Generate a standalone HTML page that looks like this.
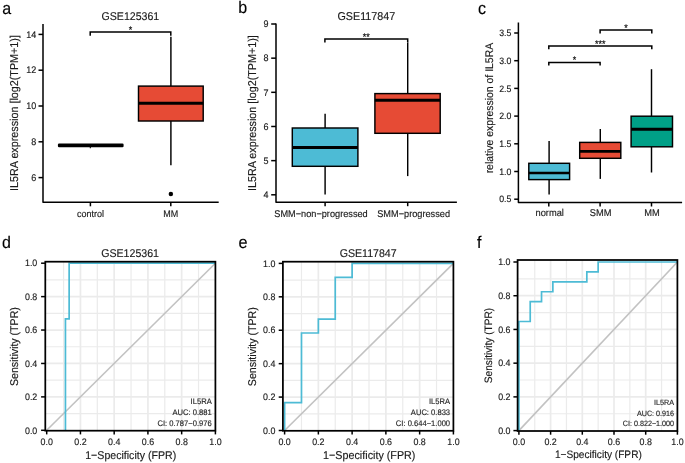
<!DOCTYPE html>
<html><head><meta charset="utf-8"><style>
html,body{margin:0;padding:0;background:#fff;}
svg{display:block;font-family:"Liberation Sans", sans-serif;will-change:transform;text-rendering:geometricPrecision;}
</style></head><body>
<svg width="685" height="463" viewBox="0 0 685 463">
<rect width="685" height="463" fill="#fff"/>
<text transform="translate(2.2,13.6) scale(1,1.06)" font-size="16" text-anchor="start" fill="#000" stroke="#000" stroke-width="0.14">a</text>
<text transform="translate(238.3,13.4) scale(1,1.06)" font-size="16" text-anchor="start" fill="#000" stroke="#000" stroke-width="0.14">b</text>
<text transform="translate(478,13.6) scale(1,1.06)" font-size="16" text-anchor="start" fill="#000" stroke="#000" stroke-width="0.14">c</text>
<text transform="translate(1.9,248.2) scale(1,1.06)" font-size="16" text-anchor="start" fill="#000" stroke="#000" stroke-width="0.14">d</text>
<text transform="translate(238.5,248.2) scale(1,1.06)" font-size="16.3" text-anchor="start" fill="#000" stroke="#000" stroke-width="0.14">e</text>
<text transform="translate(477,247.9) scale(1,1.06)" font-size="16" text-anchor="start" fill="#000" stroke="#000" stroke-width="0.14">f</text>
<polyline points="43,24 43,202.3 218.7,202.3" fill="none" stroke="#000" stroke-width="1.5" stroke-linejoin="round" stroke-linecap="butt"/>
<line x1="38.5" y1="177.6" x2="43" y2="177.6" stroke="#000" stroke-width="1.5" stroke-linecap="butt"/>
<text transform="translate(36.2,180.85) scale(1,1.06)" font-size="9" text-anchor="end" fill="#1a1a1a" stroke="#1a1a1a" stroke-width="0.14">6</text>
<line x1="38.5" y1="141.8" x2="43" y2="141.8" stroke="#000" stroke-width="1.5" stroke-linecap="butt"/>
<text transform="translate(36.2,145.05) scale(1,1.06)" font-size="9" text-anchor="end" fill="#1a1a1a" stroke="#1a1a1a" stroke-width="0.14">8</text>
<line x1="38.5" y1="106" x2="43" y2="106" stroke="#000" stroke-width="1.5" stroke-linecap="butt"/>
<text transform="translate(36.2,109.25) scale(1,1.06)" font-size="9" text-anchor="end" fill="#1a1a1a" stroke="#1a1a1a" stroke-width="0.14">10</text>
<line x1="38.5" y1="70.2" x2="43" y2="70.2" stroke="#000" stroke-width="1.5" stroke-linecap="butt"/>
<text transform="translate(36.2,73.45) scale(1,1.06)" font-size="9" text-anchor="end" fill="#1a1a1a" stroke="#1a1a1a" stroke-width="0.14">12</text>
<line x1="38.5" y1="34.4" x2="43" y2="34.4" stroke="#000" stroke-width="1.5" stroke-linecap="butt"/>
<text transform="translate(36.2,37.65) scale(1,1.06)" font-size="9" text-anchor="end" fill="#1a1a1a" stroke="#1a1a1a" stroke-width="0.14">14</text>
<line x1="90.4" y1="202.3" x2="90.4" y2="206.3" stroke="#000" stroke-width="1.5" stroke-linecap="butt"/>
<text transform="translate(90.4,216.7) scale(1,1.06)" font-size="9" text-anchor="middle" fill="#1a1a1a" stroke="#1a1a1a" stroke-width="0.14">control</text>
<line x1="170.8" y1="202.3" x2="170.8" y2="206.3" stroke="#000" stroke-width="1.5" stroke-linecap="butt"/>
<text transform="translate(170.8,216.7) scale(1,1.06)" font-size="9" text-anchor="middle" fill="#1a1a1a" stroke="#1a1a1a" stroke-width="0.14">MM</text>
<text transform="translate(18.4,113) rotate(-90) scale(1,1.06)" font-size="10.78" text-anchor="middle" fill="#1a1a1a" stroke="#1a1a1a" stroke-width="0.14">IL5RA expression [log2(TPM+1)]</text>
<text transform="translate(130.4,19.7) scale(1,1.06)" font-size="10.6" text-anchor="middle" fill="#1a1a1a" stroke="#1a1a1a" stroke-width="0.14">GSE125361</text>
<rect x="57.9" y="143.45" width="65.7" height="3.8" rx="1.2" fill="#000"/>
<line x1="90.3" y1="146" x2="90.3" y2="148.2" stroke="#000" stroke-width="1.1" stroke-linecap="butt"/>
<line x1="170.9" y1="36.7" x2="170.9" y2="86.1" stroke="#000" stroke-width="1.45" stroke-linecap="butt"/>
<line x1="170.9" y1="121" x2="170.9" y2="165.2" stroke="#000" stroke-width="1.45" stroke-linecap="butt"/>
<rect x="138.5" y="86.1" width="64.7" height="34.9" fill="#E64B35" stroke="#000" stroke-width="1.45"/>
<line x1="138.5" y1="103.3" x2="203.2" y2="103.3" stroke="#000" stroke-width="3" stroke-linecap="butt"/>
<circle cx="170.85" cy="194.1" r="2.25" fill="#000"/>
<polyline points="90.2,35.7 90.2,31.9 170.8,31.9 170.8,35.7" fill="none" stroke="#000" stroke-width="1.5" stroke-linejoin="miter" stroke-linecap="butt"/>
<text transform="translate(130.5,32.6) scale(1,1.06)" font-size="9" text-anchor="middle" fill="#000" stroke="#000" stroke-width="0.14">*</text>
<polyline points="276,23.5 276,202.2 456.9,202.2" fill="none" stroke="#000" stroke-width="1.5" stroke-linejoin="round" stroke-linecap="butt"/>
<line x1="271.2" y1="194.8" x2="276" y2="194.8" stroke="#000" stroke-width="1.5" stroke-linecap="butt"/>
<text transform="translate(268.6,198.05) scale(1,1.06)" font-size="9" text-anchor="end" fill="#1a1a1a" stroke="#1a1a1a" stroke-width="0.14">4</text>
<line x1="271.2" y1="160.64" x2="276" y2="160.64" stroke="#000" stroke-width="1.5" stroke-linecap="butt"/>
<text transform="translate(268.6,163.89) scale(1,1.06)" font-size="9" text-anchor="end" fill="#1a1a1a" stroke="#1a1a1a" stroke-width="0.14">5</text>
<line x1="271.2" y1="126.48" x2="276" y2="126.48" stroke="#000" stroke-width="1.5" stroke-linecap="butt"/>
<text transform="translate(268.6,129.73) scale(1,1.06)" font-size="9" text-anchor="end" fill="#1a1a1a" stroke="#1a1a1a" stroke-width="0.14">6</text>
<line x1="271.2" y1="92.32" x2="276" y2="92.32" stroke="#000" stroke-width="1.5" stroke-linecap="butt"/>
<text transform="translate(268.6,95.57) scale(1,1.06)" font-size="9" text-anchor="end" fill="#1a1a1a" stroke="#1a1a1a" stroke-width="0.14">7</text>
<line x1="271.2" y1="58.16" x2="276" y2="58.16" stroke="#000" stroke-width="1.5" stroke-linecap="butt"/>
<text transform="translate(268.6,61.41) scale(1,1.06)" font-size="9" text-anchor="end" fill="#1a1a1a" stroke="#1a1a1a" stroke-width="0.14">8</text>
<line x1="271.2" y1="24" x2="276" y2="24" stroke="#000" stroke-width="1.5" stroke-linecap="butt"/>
<text transform="translate(268.6,27.25) scale(1,1.06)" font-size="9" text-anchor="end" fill="#1a1a1a" stroke="#1a1a1a" stroke-width="0.14">9</text>
<line x1="325.1" y1="202.2" x2="325.1" y2="206.2" stroke="#000" stroke-width="1.5" stroke-linecap="butt"/>
<line x1="407.7" y1="202.2" x2="407.7" y2="206.2" stroke="#000" stroke-width="1.5" stroke-linecap="butt"/>
<text transform="translate(321,216.7) scale(1,1.06)" font-size="9.2" text-anchor="middle" fill="#1a1a1a" stroke="#1a1a1a" stroke-width="0.14">SMM−non−progressed</text>
<text transform="translate(413.6,216.7) scale(1,1.06)" font-size="9.2" text-anchor="middle" fill="#1a1a1a" stroke="#1a1a1a" stroke-width="0.14">SMM−progressed</text>
<text transform="translate(255.9,113.1) rotate(-90) scale(1,1.06)" font-size="10.78" text-anchor="middle" fill="#1a1a1a" stroke="#1a1a1a" stroke-width="0.14">IL5RA expression [log2(TPM+1)]</text>
<text transform="translate(366.35,19.75) scale(1,1.06)" font-size="10.75" text-anchor="middle" fill="#1a1a1a" stroke="#1a1a1a" stroke-width="0.14">GSE117847</text>
<line x1="325.1" y1="113.7" x2="325.1" y2="128" stroke="#000" stroke-width="1.45" stroke-linecap="butt"/>
<line x1="325.1" y1="166.3" x2="325.1" y2="194.6" stroke="#000" stroke-width="1.45" stroke-linecap="butt"/>
<rect x="292.3" y="128" width="65.6" height="38.3" fill="#4DBBD5" stroke="#000" stroke-width="1.45"/>
<line x1="292.3" y1="147.4" x2="357.9" y2="147.4" stroke="#000" stroke-width="3" stroke-linecap="butt"/>
<line x1="407.7" y1="42.6" x2="407.7" y2="93.6" stroke="#000" stroke-width="1.45" stroke-linecap="butt"/>
<line x1="407.7" y1="133.3" x2="407.7" y2="176.1" stroke="#000" stroke-width="1.45" stroke-linecap="butt"/>
<rect x="374.9" y="93.6" width="65.3" height="39.7" fill="#E64B35" stroke="#000" stroke-width="1.45"/>
<line x1="374.9" y1="100.2" x2="440.2" y2="100.2" stroke="#000" stroke-width="3" stroke-linecap="butt"/>
<polyline points="324.9,42.6 324.9,38.9 407.7,38.9 407.7,42.6" fill="none" stroke="#000" stroke-width="1.5" stroke-linejoin="miter" stroke-linecap="butt"/>
<text transform="translate(366.3,39.5) scale(1,1.06)" font-size="9" text-anchor="middle" fill="#000" stroke="#000" stroke-width="0.14">**</text>
<polyline points="518.4,22.5 518.4,202.5 682.1,202.5" fill="none" stroke="#000" stroke-width="1.5" stroke-linejoin="round" stroke-linecap="butt"/>
<line x1="514.2" y1="199.2" x2="518.4" y2="199.2" stroke="#000" stroke-width="1.5" stroke-linecap="butt"/>
<text transform="translate(511.4,202.4) scale(1,1.06)" font-size="8.8" text-anchor="end" fill="#1a1a1a" stroke="#1a1a1a" stroke-width="0.14">0.5</text>
<line x1="514.2" y1="171.5" x2="518.4" y2="171.5" stroke="#000" stroke-width="1.5" stroke-linecap="butt"/>
<text transform="translate(511.4,174.7) scale(1,1.06)" font-size="8.8" text-anchor="end" fill="#1a1a1a" stroke="#1a1a1a" stroke-width="0.14">1.0</text>
<line x1="514.2" y1="143.8" x2="518.4" y2="143.8" stroke="#000" stroke-width="1.5" stroke-linecap="butt"/>
<text transform="translate(511.4,147) scale(1,1.06)" font-size="8.8" text-anchor="end" fill="#1a1a1a" stroke="#1a1a1a" stroke-width="0.14">1.5</text>
<line x1="514.2" y1="116.1" x2="518.4" y2="116.1" stroke="#000" stroke-width="1.5" stroke-linecap="butt"/>
<text transform="translate(511.4,119.3) scale(1,1.06)" font-size="8.8" text-anchor="end" fill="#1a1a1a" stroke="#1a1a1a" stroke-width="0.14">2.0</text>
<line x1="514.2" y1="88.4" x2="518.4" y2="88.4" stroke="#000" stroke-width="1.5" stroke-linecap="butt"/>
<text transform="translate(511.4,91.6) scale(1,1.06)" font-size="8.8" text-anchor="end" fill="#1a1a1a" stroke="#1a1a1a" stroke-width="0.14">2.5</text>
<line x1="514.2" y1="60.7" x2="518.4" y2="60.7" stroke="#000" stroke-width="1.5" stroke-linecap="butt"/>
<text transform="translate(511.4,63.9) scale(1,1.06)" font-size="8.8" text-anchor="end" fill="#1a1a1a" stroke="#1a1a1a" stroke-width="0.14">3.0</text>
<line x1="514.2" y1="33" x2="518.4" y2="33" stroke="#000" stroke-width="1.5" stroke-linecap="butt"/>
<text transform="translate(511.4,36.2) scale(1,1.06)" font-size="8.8" text-anchor="end" fill="#1a1a1a" stroke="#1a1a1a" stroke-width="0.14">3.5</text>
<line x1="548.8" y1="202.5" x2="548.8" y2="206.5" stroke="#000" stroke-width="1.5" stroke-linecap="butt"/>
<text transform="translate(549.7,215.9) scale(1,1.06)" font-size="9.3" text-anchor="middle" fill="#1a1a1a" stroke="#1a1a1a" stroke-width="0.14">normal</text>
<line x1="600.1" y1="202.5" x2="600.1" y2="206.5" stroke="#000" stroke-width="1.5" stroke-linecap="butt"/>
<text transform="translate(600.7,215.9) scale(1,1.06)" font-size="9.3" text-anchor="middle" fill="#1a1a1a" stroke="#1a1a1a" stroke-width="0.14">SMM</text>
<line x1="651.5" y1="202.5" x2="651.5" y2="206.5" stroke="#000" stroke-width="1.5" stroke-linecap="butt"/>
<text transform="translate(652,215.9) scale(1,1.06)" font-size="9.3" text-anchor="middle" fill="#1a1a1a" stroke="#1a1a1a" stroke-width="0.14">MM</text>
<text transform="translate(492.7,108.1) rotate(-90) scale(1,1.06)" font-size="10.45" text-anchor="middle" fill="#1a1a1a" stroke="#1a1a1a" stroke-width="0.14">relative expression of IL5RA</text>
<line x1="549.1" y1="141.1" x2="549.1" y2="163.3" stroke="#000" stroke-width="1.45" stroke-linecap="butt"/>
<line x1="549.1" y1="179.6" x2="549.1" y2="194.4" stroke="#000" stroke-width="1.45" stroke-linecap="butt"/>
<rect x="528.8" y="163.3" width="40.8" height="16.3" fill="#4DBBD5" stroke="#000" stroke-width="1.45"/>
<line x1="528.8" y1="173" x2="569.6" y2="173" stroke="#000" stroke-width="2.7" stroke-linecap="butt"/>
<line x1="600.3" y1="129" x2="600.3" y2="142.4" stroke="#000" stroke-width="1.45" stroke-linecap="butt"/>
<line x1="600.3" y1="158.3" x2="600.3" y2="178.9" stroke="#000" stroke-width="1.45" stroke-linecap="butt"/>
<rect x="579.7" y="142.4" width="41.1" height="15.9" fill="#E64B35" stroke="#000" stroke-width="1.45"/>
<line x1="579.7" y1="151.3" x2="620.8" y2="151.3" stroke="#000" stroke-width="2.7" stroke-linecap="butt"/>
<line x1="651.5" y1="69.2" x2="651.5" y2="116.2" stroke="#000" stroke-width="1.45" stroke-linecap="butt"/>
<line x1="651.5" y1="146.8" x2="651.5" y2="172.5" stroke="#000" stroke-width="1.45" stroke-linecap="butt"/>
<rect x="631.1" y="116.2" width="41.4" height="30.6" fill="#00A087" stroke="#000" stroke-width="1.45"/>
<line x1="631.1" y1="129.2" x2="672.5" y2="129.2" stroke="#000" stroke-width="3" stroke-linecap="butt"/>
<polyline points="600.1,33.4 600.1,29.9 651.8,29.9 651.8,33.4" fill="none" stroke="#000" stroke-width="1.5" stroke-linejoin="miter" stroke-linecap="butt"/>
<text transform="translate(625.95,30.5) scale(1,1.06)" font-size="9" text-anchor="middle" fill="#000" stroke="#000" stroke-width="0.14">*</text>
<polyline points="548.8,49.3 548.8,46.1 651.8,46.1 651.8,49.3" fill="none" stroke="#000" stroke-width="1.5" stroke-linejoin="miter" stroke-linecap="butt"/>
<text transform="translate(600.3,46.5) scale(1,1.06)" font-size="9" text-anchor="middle" fill="#000" stroke="#000" stroke-width="0.14">***</text>
<polyline points="548.8,65.5 548.8,62.4 600.1,62.4 600.1,65.5" fill="none" stroke="#000" stroke-width="1.5" stroke-linejoin="miter" stroke-linecap="butt"/>
<text transform="translate(574.45,62.6) scale(1,1.06)" font-size="9" text-anchor="middle" fill="#000" stroke="#000" stroke-width="0.14">*</text>
<line x1="63.57" y1="261.7" x2="63.57" y2="430.7" stroke="#EBEBEB" stroke-width="1.2"/>
<line x1="45.3" y1="413.59" x2="215.4" y2="413.59" stroke="#EBEBEB" stroke-width="1.2"/>
<line x1="80.44" y1="261.7" x2="80.44" y2="430.7" stroke="#EBEBEB" stroke-width="1.7"/>
<line x1="45.3" y1="396.88" x2="215.4" y2="396.88" stroke="#EBEBEB" stroke-width="1.7"/>
<line x1="97.31" y1="261.7" x2="97.31" y2="430.7" stroke="#EBEBEB" stroke-width="1.2"/>
<line x1="45.3" y1="380.17" x2="215.4" y2="380.17" stroke="#EBEBEB" stroke-width="1.2"/>
<line x1="114.18" y1="261.7" x2="114.18" y2="430.7" stroke="#EBEBEB" stroke-width="1.7"/>
<line x1="45.3" y1="363.46" x2="215.4" y2="363.46" stroke="#EBEBEB" stroke-width="1.7"/>
<line x1="131.05" y1="261.7" x2="131.05" y2="430.7" stroke="#EBEBEB" stroke-width="1.2"/>
<line x1="45.3" y1="346.75" x2="215.4" y2="346.75" stroke="#EBEBEB" stroke-width="1.2"/>
<line x1="147.92" y1="261.7" x2="147.92" y2="430.7" stroke="#EBEBEB" stroke-width="1.7"/>
<line x1="45.3" y1="330.04" x2="215.4" y2="330.04" stroke="#EBEBEB" stroke-width="1.7"/>
<line x1="164.79" y1="261.7" x2="164.79" y2="430.7" stroke="#EBEBEB" stroke-width="1.2"/>
<line x1="45.3" y1="313.33" x2="215.4" y2="313.33" stroke="#EBEBEB" stroke-width="1.2"/>
<line x1="181.66" y1="261.7" x2="181.66" y2="430.7" stroke="#EBEBEB" stroke-width="1.7"/>
<line x1="45.3" y1="296.62" x2="215.4" y2="296.62" stroke="#EBEBEB" stroke-width="1.7"/>
<line x1="198.53" y1="261.7" x2="198.53" y2="430.7" stroke="#EBEBEB" stroke-width="1.2"/>
<line x1="45.3" y1="279.91" x2="215.4" y2="279.91" stroke="#EBEBEB" stroke-width="1.2"/>
<line x1="46.7" y1="430.3" x2="215.4" y2="263.2" stroke="#C2C2C2" stroke-width="1.6" stroke-linecap="butt"/>
<polyline points="65.44,430.3 65.44,318.9 69.14,318.9 69.14,263.2 215.4,263.2" fill="none" stroke="#4DBBD5" stroke-width="1.7" stroke-linejoin="miter" stroke-linecap="butt"/>
<rect x="45.3" y="261.7" width="170.1" height="169" fill="none" stroke="#000" stroke-width="1.75"/>
<line x1="41.1" y1="430.3" x2="45.3" y2="430.3" stroke="#000" stroke-width="1.5" stroke-linecap="butt"/>
<text transform="translate(37.3,433.5) scale(1,1.06)" font-size="8.9" text-anchor="end" fill="#1a1a1a" stroke="#1a1a1a" stroke-width="0.14">0.0</text>
<line x1="46.7" y1="430.7" x2="46.7" y2="434.4" stroke="#000" stroke-width="1.5" stroke-linecap="butt"/>
<text transform="translate(46.7,444.5) scale(1,1.06)" font-size="8.9" text-anchor="middle" fill="#1a1a1a" stroke="#1a1a1a" stroke-width="0.14">0.0</text>
<line x1="41.1" y1="396.88" x2="45.3" y2="396.88" stroke="#000" stroke-width="1.5" stroke-linecap="butt"/>
<text transform="translate(37.3,400.08) scale(1,1.06)" font-size="8.9" text-anchor="end" fill="#1a1a1a" stroke="#1a1a1a" stroke-width="0.14">0.2</text>
<line x1="80.44" y1="430.7" x2="80.44" y2="434.4" stroke="#000" stroke-width="1.5" stroke-linecap="butt"/>
<text transform="translate(80.44,444.5) scale(1,1.06)" font-size="8.9" text-anchor="middle" fill="#1a1a1a" stroke="#1a1a1a" stroke-width="0.14">0.2</text>
<line x1="41.1" y1="363.46" x2="45.3" y2="363.46" stroke="#000" stroke-width="1.5" stroke-linecap="butt"/>
<text transform="translate(37.3,366.66) scale(1,1.06)" font-size="8.9" text-anchor="end" fill="#1a1a1a" stroke="#1a1a1a" stroke-width="0.14">0.4</text>
<line x1="114.18" y1="430.7" x2="114.18" y2="434.4" stroke="#000" stroke-width="1.5" stroke-linecap="butt"/>
<text transform="translate(114.18,444.5) scale(1,1.06)" font-size="8.9" text-anchor="middle" fill="#1a1a1a" stroke="#1a1a1a" stroke-width="0.14">0.4</text>
<line x1="41.1" y1="330.04" x2="45.3" y2="330.04" stroke="#000" stroke-width="1.5" stroke-linecap="butt"/>
<text transform="translate(37.3,333.24) scale(1,1.06)" font-size="8.9" text-anchor="end" fill="#1a1a1a" stroke="#1a1a1a" stroke-width="0.14">0.6</text>
<line x1="147.92" y1="430.7" x2="147.92" y2="434.4" stroke="#000" stroke-width="1.5" stroke-linecap="butt"/>
<text transform="translate(147.92,444.5) scale(1,1.06)" font-size="8.9" text-anchor="middle" fill="#1a1a1a" stroke="#1a1a1a" stroke-width="0.14">0.6</text>
<line x1="41.1" y1="296.62" x2="45.3" y2="296.62" stroke="#000" stroke-width="1.5" stroke-linecap="butt"/>
<text transform="translate(37.3,299.82) scale(1,1.06)" font-size="8.9" text-anchor="end" fill="#1a1a1a" stroke="#1a1a1a" stroke-width="0.14">0.8</text>
<line x1="181.66" y1="430.7" x2="181.66" y2="434.4" stroke="#000" stroke-width="1.5" stroke-linecap="butt"/>
<text transform="translate(181.66,444.5) scale(1,1.06)" font-size="8.9" text-anchor="middle" fill="#1a1a1a" stroke="#1a1a1a" stroke-width="0.14">0.8</text>
<line x1="41.1" y1="263.2" x2="45.3" y2="263.2" stroke="#000" stroke-width="1.5" stroke-linecap="butt"/>
<text transform="translate(37.3,266.4) scale(1,1.06)" font-size="8.9" text-anchor="end" fill="#1a1a1a" stroke="#1a1a1a" stroke-width="0.14">1.0</text>
<line x1="215.4" y1="430.7" x2="215.4" y2="434.4" stroke="#000" stroke-width="1.5" stroke-linecap="butt"/>
<text transform="translate(215.4,444.5) scale(1,1.06)" font-size="8.9" text-anchor="middle" fill="#1a1a1a" stroke="#1a1a1a" stroke-width="0.14">1.0</text>
<text transform="translate(130.1,257) scale(1,1.06)" font-size="10.62" text-anchor="middle" fill="#1a1a1a" stroke="#1a1a1a" stroke-width="0.14">GSE125361</text>
<text transform="translate(211.7,403.8) scale(1,1.06)" font-size="7.6" text-anchor="end" fill="#262626" stroke="#262626" stroke-width="0.14">IL5RA</text>
<text transform="translate(211.7,414.9) scale(1,1.06)" font-size="7.6" text-anchor="end" fill="#262626" stroke="#262626" stroke-width="0.14">AUC: 0.881</text>
<text transform="translate(211.7,425.9) scale(1,1.06)" font-size="7.6" text-anchor="end" fill="#262626" stroke="#262626" stroke-width="0.14">CI: 0.787−0.976</text>
<text transform="translate(130.7,458.9) scale(1,1.06)" font-size="10.6" text-anchor="middle" fill="#1a1a1a" stroke="#1a1a1a" stroke-width="0.14">1−Specificity (FPR)</text>
<text transform="translate(18.4,346.6) rotate(-90) scale(1,1.06)" font-size="10.6" text-anchor="middle" fill="#1a1a1a" stroke="#1a1a1a" stroke-width="0.14">Sensitivity (TPR)</text>
<line x1="301.48" y1="261.7" x2="301.48" y2="430.8" stroke="#EBEBEB" stroke-width="1.2"/>
<line x1="282.9" y1="413.79" x2="453.4" y2="413.79" stroke="#EBEBEB" stroke-width="1.2"/>
<line x1="318.36" y1="261.7" x2="318.36" y2="430.8" stroke="#EBEBEB" stroke-width="1.7"/>
<line x1="282.9" y1="397.08" x2="453.4" y2="397.08" stroke="#EBEBEB" stroke-width="1.7"/>
<line x1="335.24" y1="261.7" x2="335.24" y2="430.8" stroke="#EBEBEB" stroke-width="1.2"/>
<line x1="282.9" y1="380.37" x2="453.4" y2="380.37" stroke="#EBEBEB" stroke-width="1.2"/>
<line x1="352.12" y1="261.7" x2="352.12" y2="430.8" stroke="#EBEBEB" stroke-width="1.7"/>
<line x1="282.9" y1="363.66" x2="453.4" y2="363.66" stroke="#EBEBEB" stroke-width="1.7"/>
<line x1="369" y1="261.7" x2="369" y2="430.8" stroke="#EBEBEB" stroke-width="1.2"/>
<line x1="282.9" y1="346.95" x2="453.4" y2="346.95" stroke="#EBEBEB" stroke-width="1.2"/>
<line x1="385.88" y1="261.7" x2="385.88" y2="430.8" stroke="#EBEBEB" stroke-width="1.7"/>
<line x1="282.9" y1="330.24" x2="453.4" y2="330.24" stroke="#EBEBEB" stroke-width="1.7"/>
<line x1="402.76" y1="261.7" x2="402.76" y2="430.8" stroke="#EBEBEB" stroke-width="1.2"/>
<line x1="282.9" y1="313.53" x2="453.4" y2="313.53" stroke="#EBEBEB" stroke-width="1.2"/>
<line x1="419.64" y1="261.7" x2="419.64" y2="430.8" stroke="#EBEBEB" stroke-width="1.7"/>
<line x1="282.9" y1="296.82" x2="453.4" y2="296.82" stroke="#EBEBEB" stroke-width="1.7"/>
<line x1="436.52" y1="261.7" x2="436.52" y2="430.8" stroke="#EBEBEB" stroke-width="1.2"/>
<line x1="282.9" y1="280.11" x2="453.4" y2="280.11" stroke="#EBEBEB" stroke-width="1.2"/>
<line x1="284.6" y1="430.5" x2="453.4" y2="263.4" stroke="#C2C2C2" stroke-width="1.6" stroke-linecap="butt"/>
<polyline points="284.6,430.5 284.6,402.65 301.48,402.65 301.48,333.02 318.36,333.02 318.36,319.1 335.24,319.1 335.24,277.32 352.12,277.32 352.12,263.4 453.4,263.4" fill="none" stroke="#4DBBD5" stroke-width="1.7" stroke-linejoin="miter" stroke-linecap="butt"/>
<rect x="282.9" y="261.7" width="170.5" height="169.1" fill="none" stroke="#000" stroke-width="1.75"/>
<line x1="278.7" y1="430.5" x2="282.9" y2="430.5" stroke="#000" stroke-width="1.5" stroke-linecap="butt"/>
<text transform="translate(275.4,433.7) scale(1,1.06)" font-size="8.9" text-anchor="end" fill="#1a1a1a" stroke="#1a1a1a" stroke-width="0.14">0.0</text>
<line x1="284.6" y1="430.8" x2="284.6" y2="434.5" stroke="#000" stroke-width="1.5" stroke-linecap="butt"/>
<text transform="translate(284.6,444.5) scale(1,1.06)" font-size="8.9" text-anchor="middle" fill="#1a1a1a" stroke="#1a1a1a" stroke-width="0.14">0.0</text>
<line x1="278.7" y1="397.08" x2="282.9" y2="397.08" stroke="#000" stroke-width="1.5" stroke-linecap="butt"/>
<text transform="translate(275.4,400.28) scale(1,1.06)" font-size="8.9" text-anchor="end" fill="#1a1a1a" stroke="#1a1a1a" stroke-width="0.14">0.2</text>
<line x1="318.36" y1="430.8" x2="318.36" y2="434.5" stroke="#000" stroke-width="1.5" stroke-linecap="butt"/>
<text transform="translate(318.36,444.5) scale(1,1.06)" font-size="8.9" text-anchor="middle" fill="#1a1a1a" stroke="#1a1a1a" stroke-width="0.14">0.2</text>
<line x1="278.7" y1="363.66" x2="282.9" y2="363.66" stroke="#000" stroke-width="1.5" stroke-linecap="butt"/>
<text transform="translate(275.4,366.86) scale(1,1.06)" font-size="8.9" text-anchor="end" fill="#1a1a1a" stroke="#1a1a1a" stroke-width="0.14">0.4</text>
<line x1="352.12" y1="430.8" x2="352.12" y2="434.5" stroke="#000" stroke-width="1.5" stroke-linecap="butt"/>
<text transform="translate(352.12,444.5) scale(1,1.06)" font-size="8.9" text-anchor="middle" fill="#1a1a1a" stroke="#1a1a1a" stroke-width="0.14">0.4</text>
<line x1="278.7" y1="330.24" x2="282.9" y2="330.24" stroke="#000" stroke-width="1.5" stroke-linecap="butt"/>
<text transform="translate(275.4,333.44) scale(1,1.06)" font-size="8.9" text-anchor="end" fill="#1a1a1a" stroke="#1a1a1a" stroke-width="0.14">0.6</text>
<line x1="385.88" y1="430.8" x2="385.88" y2="434.5" stroke="#000" stroke-width="1.5" stroke-linecap="butt"/>
<text transform="translate(385.88,444.5) scale(1,1.06)" font-size="8.9" text-anchor="middle" fill="#1a1a1a" stroke="#1a1a1a" stroke-width="0.14">0.6</text>
<line x1="278.7" y1="296.82" x2="282.9" y2="296.82" stroke="#000" stroke-width="1.5" stroke-linecap="butt"/>
<text transform="translate(275.4,300.02) scale(1,1.06)" font-size="8.9" text-anchor="end" fill="#1a1a1a" stroke="#1a1a1a" stroke-width="0.14">0.8</text>
<line x1="419.64" y1="430.8" x2="419.64" y2="434.5" stroke="#000" stroke-width="1.5" stroke-linecap="butt"/>
<text transform="translate(419.64,444.5) scale(1,1.06)" font-size="8.9" text-anchor="middle" fill="#1a1a1a" stroke="#1a1a1a" stroke-width="0.14">0.8</text>
<line x1="278.7" y1="263.4" x2="282.9" y2="263.4" stroke="#000" stroke-width="1.5" stroke-linecap="butt"/>
<text transform="translate(275.4,266.6) scale(1,1.06)" font-size="8.9" text-anchor="end" fill="#1a1a1a" stroke="#1a1a1a" stroke-width="0.14">1.0</text>
<line x1="453.4" y1="430.8" x2="453.4" y2="434.5" stroke="#000" stroke-width="1.5" stroke-linecap="butt"/>
<text transform="translate(453.4,444.5) scale(1,1.06)" font-size="8.9" text-anchor="middle" fill="#1a1a1a" stroke="#1a1a1a" stroke-width="0.14">1.0</text>
<text transform="translate(368.15,256.6) scale(1,1.06)" font-size="10.62" text-anchor="middle" fill="#1a1a1a" stroke="#1a1a1a" stroke-width="0.14">GSE117847</text>
<text transform="translate(450.1,403.9) scale(1,1.06)" font-size="7.6" text-anchor="end" fill="#262626" stroke="#262626" stroke-width="0.14">IL5RA</text>
<text transform="translate(450.1,414.8) scale(1,1.06)" font-size="7.6" text-anchor="end" fill="#262626" stroke="#262626" stroke-width="0.14">AUC: 0.833</text>
<text transform="translate(450.1,425.8) scale(1,1.06)" font-size="7.6" text-anchor="end" fill="#262626" stroke="#262626" stroke-width="0.14">CI: 0.644−1.000</text>
<text transform="translate(369.25,458.6) scale(1,1.06)" font-size="10.75" text-anchor="middle" fill="#1a1a1a" stroke="#1a1a1a" stroke-width="0.14">1−Specificity (FPR)</text>
<text transform="translate(256.4,346.7) rotate(-90) scale(1,1.06)" font-size="10.6" text-anchor="middle" fill="#1a1a1a" stroke="#1a1a1a" stroke-width="0.14">Sensitivity (TPR)</text>
<line x1="534.75" y1="260" x2="534.75" y2="431" stroke="#EBEBEB" stroke-width="1.2"/>
<line x1="517.6" y1="413.74" x2="677.4" y2="413.74" stroke="#EBEBEB" stroke-width="1.2"/>
<line x1="550.6" y1="260" x2="550.6" y2="431" stroke="#EBEBEB" stroke-width="1.7"/>
<line x1="517.6" y1="396.88" x2="677.4" y2="396.88" stroke="#EBEBEB" stroke-width="1.7"/>
<line x1="566.45" y1="260" x2="566.45" y2="431" stroke="#EBEBEB" stroke-width="1.2"/>
<line x1="517.6" y1="380.02" x2="677.4" y2="380.02" stroke="#EBEBEB" stroke-width="1.2"/>
<line x1="582.3" y1="260" x2="582.3" y2="431" stroke="#EBEBEB" stroke-width="1.7"/>
<line x1="517.6" y1="363.16" x2="677.4" y2="363.16" stroke="#EBEBEB" stroke-width="1.7"/>
<line x1="598.15" y1="260" x2="598.15" y2="431" stroke="#EBEBEB" stroke-width="1.2"/>
<line x1="517.6" y1="346.3" x2="677.4" y2="346.3" stroke="#EBEBEB" stroke-width="1.2"/>
<line x1="614" y1="260" x2="614" y2="431" stroke="#EBEBEB" stroke-width="1.7"/>
<line x1="517.6" y1="329.44" x2="677.4" y2="329.44" stroke="#EBEBEB" stroke-width="1.7"/>
<line x1="629.85" y1="260" x2="629.85" y2="431" stroke="#EBEBEB" stroke-width="1.2"/>
<line x1="517.6" y1="312.58" x2="677.4" y2="312.58" stroke="#EBEBEB" stroke-width="1.2"/>
<line x1="645.7" y1="260" x2="645.7" y2="431" stroke="#EBEBEB" stroke-width="1.7"/>
<line x1="517.6" y1="295.72" x2="677.4" y2="295.72" stroke="#EBEBEB" stroke-width="1.7"/>
<line x1="661.55" y1="260" x2="661.55" y2="431" stroke="#EBEBEB" stroke-width="1.2"/>
<line x1="517.6" y1="278.86" x2="677.4" y2="278.86" stroke="#EBEBEB" stroke-width="1.2"/>
<line x1="518.9" y1="430.6" x2="677.4" y2="262" stroke="#C2C2C2" stroke-width="1.6" stroke-linecap="butt"/>
<polyline points="518.9,430.6 518.9,321.51 530.22,321.51 530.22,301.67 541.54,301.67 541.54,291.75 552.86,291.75 552.86,281.84 586.83,281.84 586.83,271.92 598.15,271.92 598.15,262 677.4,262" fill="none" stroke="#4DBBD5" stroke-width="1.7" stroke-linejoin="miter" stroke-linecap="butt"/>
<rect x="517.6" y="260" width="159.8" height="171" fill="none" stroke="#000" stroke-width="1.75"/>
<line x1="513.4" y1="430.6" x2="517.6" y2="430.6" stroke="#000" stroke-width="1.5" stroke-linecap="butt"/>
<text transform="translate(510.5,433.8) scale(1,1.06)" font-size="8.9" text-anchor="end" fill="#1a1a1a" stroke="#1a1a1a" stroke-width="0.14">0.0</text>
<line x1="518.9" y1="431" x2="518.9" y2="434.7" stroke="#000" stroke-width="1.5" stroke-linecap="butt"/>
<text transform="translate(518.9,444.5) scale(1,1.06)" font-size="8.9" text-anchor="middle" fill="#1a1a1a" stroke="#1a1a1a" stroke-width="0.14">0.0</text>
<line x1="513.4" y1="396.88" x2="517.6" y2="396.88" stroke="#000" stroke-width="1.5" stroke-linecap="butt"/>
<text transform="translate(510.5,400.08) scale(1,1.06)" font-size="8.9" text-anchor="end" fill="#1a1a1a" stroke="#1a1a1a" stroke-width="0.14">0.2</text>
<line x1="550.6" y1="431" x2="550.6" y2="434.7" stroke="#000" stroke-width="1.5" stroke-linecap="butt"/>
<text transform="translate(550.6,444.5) scale(1,1.06)" font-size="8.9" text-anchor="middle" fill="#1a1a1a" stroke="#1a1a1a" stroke-width="0.14">0.2</text>
<line x1="513.4" y1="363.16" x2="517.6" y2="363.16" stroke="#000" stroke-width="1.5" stroke-linecap="butt"/>
<text transform="translate(510.5,366.36) scale(1,1.06)" font-size="8.9" text-anchor="end" fill="#1a1a1a" stroke="#1a1a1a" stroke-width="0.14">0.4</text>
<line x1="582.3" y1="431" x2="582.3" y2="434.7" stroke="#000" stroke-width="1.5" stroke-linecap="butt"/>
<text transform="translate(582.3,444.5) scale(1,1.06)" font-size="8.9" text-anchor="middle" fill="#1a1a1a" stroke="#1a1a1a" stroke-width="0.14">0.4</text>
<line x1="513.4" y1="329.44" x2="517.6" y2="329.44" stroke="#000" stroke-width="1.5" stroke-linecap="butt"/>
<text transform="translate(510.5,332.64) scale(1,1.06)" font-size="8.9" text-anchor="end" fill="#1a1a1a" stroke="#1a1a1a" stroke-width="0.14">0.6</text>
<line x1="614" y1="431" x2="614" y2="434.7" stroke="#000" stroke-width="1.5" stroke-linecap="butt"/>
<text transform="translate(614,444.5) scale(1,1.06)" font-size="8.9" text-anchor="middle" fill="#1a1a1a" stroke="#1a1a1a" stroke-width="0.14">0.6</text>
<line x1="513.4" y1="295.72" x2="517.6" y2="295.72" stroke="#000" stroke-width="1.5" stroke-linecap="butt"/>
<text transform="translate(510.5,298.92) scale(1,1.06)" font-size="8.9" text-anchor="end" fill="#1a1a1a" stroke="#1a1a1a" stroke-width="0.14">0.8</text>
<line x1="645.7" y1="431" x2="645.7" y2="434.7" stroke="#000" stroke-width="1.5" stroke-linecap="butt"/>
<text transform="translate(645.7,444.5) scale(1,1.06)" font-size="8.9" text-anchor="middle" fill="#1a1a1a" stroke="#1a1a1a" stroke-width="0.14">0.8</text>
<line x1="513.4" y1="262" x2="517.6" y2="262" stroke="#000" stroke-width="1.5" stroke-linecap="butt"/>
<text transform="translate(510.5,265.2) scale(1,1.06)" font-size="8.9" text-anchor="end" fill="#1a1a1a" stroke="#1a1a1a" stroke-width="0.14">1.0</text>
<line x1="677.4" y1="431" x2="677.4" y2="434.7" stroke="#000" stroke-width="1.5" stroke-linecap="butt"/>
<text transform="translate(677.4,444.5) scale(1,1.06)" font-size="8.9" text-anchor="middle" fill="#1a1a1a" stroke="#1a1a1a" stroke-width="0.14">1.0</text>
<text transform="translate(674.1,405.2) scale(1,1.06)" font-size="7.2" text-anchor="end" fill="#262626" stroke="#262626" stroke-width="0.14">IL5RA</text>
<text transform="translate(674.1,415.8) scale(1,1.06)" font-size="7.2" text-anchor="end" fill="#262626" stroke="#262626" stroke-width="0.14">AUC: 0.916</text>
<text transform="translate(674.1,425.9) scale(1,1.06)" font-size="7.2" text-anchor="end" fill="#262626" stroke="#262626" stroke-width="0.14">CI: 0.822−1.000</text>
<text transform="translate(598.35,458) scale(1,1.06)" font-size="10.15" text-anchor="middle" fill="#1a1a1a" stroke="#1a1a1a" stroke-width="0.14">1−Specificity (FPR)</text>
<text transform="translate(491.6,345.5) rotate(-90) scale(1,1.06)" font-size="10.15" text-anchor="middle" fill="#1a1a1a" stroke="#1a1a1a" stroke-width="0.14">Sensitivity (TPR)</text>
</svg>
</body></html>
